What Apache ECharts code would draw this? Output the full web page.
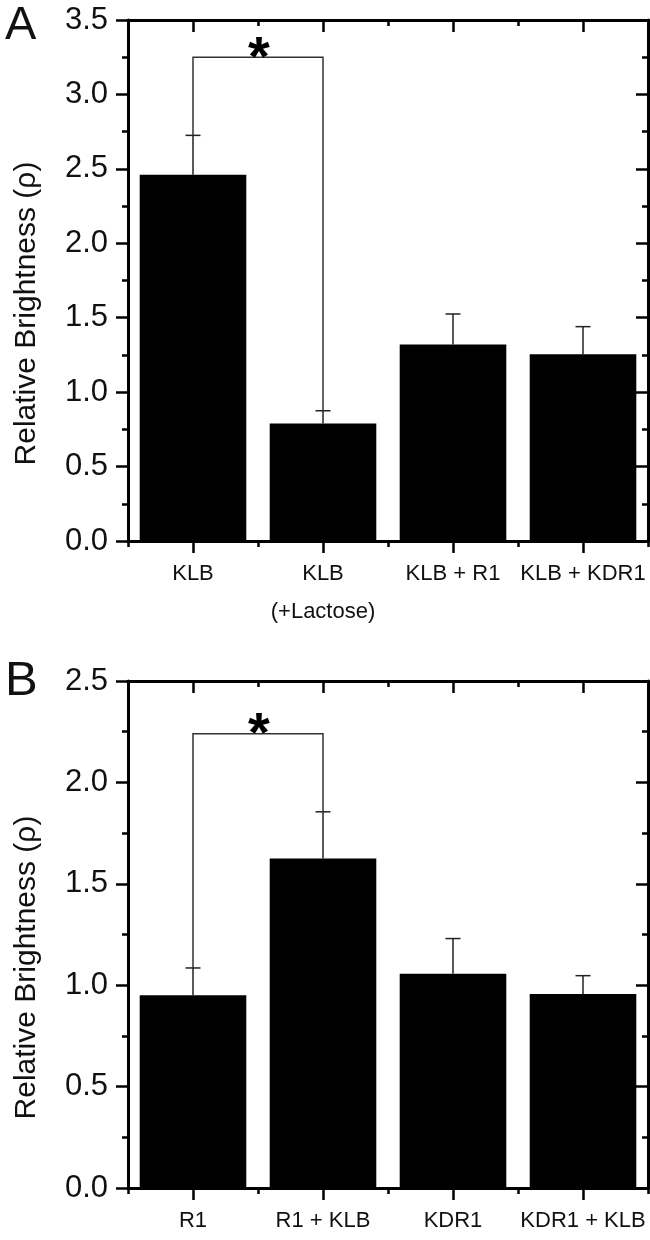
<!DOCTYPE html>
<html>
<head>
<meta charset="utf-8">
<script src="https://cdn.jsdelivr.net/npm/echarts@6/dist/echarts.min.js"></script>
<style>
html,body{margin:0;padding:0;background:#fff;}
#c{width:650px;height:1240px;}
</style>
</head>
<body>
<div id="c"></div>
<script>
// ---- Data ----
var catsA = ['KLB', 'KLB\n(+Lactose)', 'KLB + R1', 'KLB + KDR1'];
var valsA = [2.46, 0.79, 1.32, 1.255];
var errA  = [0.265, 0.085, 0.205, 0.185];
var bracketA = [0, 1, 3.25];   // from category, to category, bracket top
var ticksA = [0, 3.5, 0.5];    // min, max, step

var catsB = ['R1', 'R1 + KLB', 'KDR1', 'KDR1 + KLB'];
var valsB = [0.95, 1.625, 1.057, 0.957];
var errB  = [0.135, 0.23, 0.173, 0.09];
var bracketB = [0, 1, 2.24];
var ticksB = [0, 2.5, 0.5];

var yTitle = 'Relative Brightness (\u03c1)';
var FONT = '"Liberation Sans", Arial, sans-serif';
var INK = '#000';

var chart = echarts.init(document.getElementById('c'), null, {renderer: 'canvas'});

function xAxes(gi, cats) {
  var base = {type: 'category', gridIndex: gi, data: cats, boundaryGap: true,
    axisLine: {show: true, lineStyle: {color: INK, width: 3}}, splitLine: {show: false}};
  return [
    Object.assign({}, base, {position: 'bottom',
      axisTick: {show: true, alignWithLabel: true, length: 12, lineStyle: {color: INK, width: 2.5}},
      axisLabel: {show: true, color: '#111', fontFamily: FONT, fontSize: 22, lineHeight: 38, margin: 14, interval: 0}}),
    Object.assign({}, base, {position: 'bottom',
      axisTick: {show: true, alignWithLabel: false, length: 6, lineStyle: {color: INK, width: 2.5}},
      axisLabel: {show: false}}),
    Object.assign({}, base, {position: 'top',
      axisTick: {show: true, inside: true, alignWithLabel: true, length: 12, lineStyle: {color: INK, width: 2.5}},
      axisLabel: {show: false}}),
    Object.assign({}, base, {position: 'top',
      axisTick: {show: true, inside: true, alignWithLabel: false, length: 6, lineStyle: {color: INK, width: 2.5}},
      axisLabel: {show: false}})
  ];
}

function yAxes(gi, t) {
  var base = {type: 'value', gridIndex: gi, min: t[0], max: t[1], interval: t[2],
    axisLine: {show: true, lineStyle: {color: INK, width: 3}}, splitLine: {show: false}};
  return [
    Object.assign({}, base, {position: 'left',
      name: yTitle, nameLocation: 'middle', nameGap: 86, nameRotate: 90,
      nameTextStyle: {fontFamily: FONT, fontSize: 30, color: '#111', padding: [0, 66, 0, 0]},
      axisTick: {show: true, inside: false, length: 12, lineStyle: {color: INK, width: 2.5}},
      minorTick: {show: true, splitNumber: 2, length: 6, lineStyle: {color: INK, width: 2.5}},
      axisLabel: {show: true, color: '#111', fontFamily: FONT, fontSize: 31, margin: 20,
        formatter: function (v) { return v.toFixed(1); }}}),
    Object.assign({}, base, {position: 'right',
      axisTick: {show: true, inside: true, length: 12, lineStyle: {color: INK, width: 2.5}},
      minorTick: {show: true, splitNumber: 2, length: 6, lineStyle: {color: INK, width: 2.5}},
      axisLabel: {show: false}})
  ];
}

function errRender(params, api) {
  var i = api.value(0), v = api.value(1), e = api.value(2);
  var p0 = api.coord([i, v]);
  var p1 = api.coord([i, v + e]);
  var half = 7.5;
  return {type: 'group', children: [
    {type: 'line', shape: {x1: p0[0], y1: p0[1], x2: p1[0], y2: p1[1]}, style: {stroke: '#222', lineWidth: 1.5}},
    {type: 'line', shape: {x1: p1[0] - half, y1: p1[1], x2: p1[0] + half, y2: p1[1]}, style: {stroke: '#222', lineWidth: 1.5}}
  ]};
}

function bracketRender(params, api) {
  var a = api.value(0), b = api.value(1), top = api.value(2), la = api.value(3), lb = api.value(4);
  var pa = api.coord([a, la]), pat = api.coord([a, top]);
  var pb = api.coord([b, lb]), pbt = api.coord([b, top]);
  var mid = (pat[0] + pbt[0]) / 2;
  return {type: 'group', children: [
    {type: 'polyline', shape: {points: [pa, pat, pbt, pb]}, style: {stroke: '#333', lineWidth: 1.5, fill: null}},
    {type: 'text', x: mid + 1, y: pat[1] + 2, style: {text: '*', fontFamily: FONT, fontWeight: 'bold', fontSize: 56,
      fill: '#000', align: 'center', verticalAlign: 'middle'}}
  ]};
}

function panelSeries(gi, vals, errs, br) {
  var xi = gi * 4, yi = gi * 2;
  var errData = vals.map(function (v, i) { return [i, v, errs[i]]; });
  var brData = [[br[0], br[1], br[2], vals[br[0]] + errs[br[0]], vals[br[1]] + errs[br[1]]]];
  return [
    {type: 'bar', xAxisIndex: xi, yAxisIndex: yi, data: vals, barWidth: '82%',
      itemStyle: {color: '#000'}, silent: true, z: 2},
    {type: 'custom', xAxisIndex: xi, yAxisIndex: yi, data: errData, renderItem: errRender,
      encode: {x: 0, y: [1, 2]}, clip: false, silent: true, z: 3},
    {type: 'custom', xAxisIndex: xi, yAxisIndex: yi, data: brData, renderItem: bracketRender,
      encode: {x: [0, 1], y: [2, 3, 4]}, clip: false, silent: true, z: 3}
  ];
}

var option = {
  animation: false,
  backgroundColor: '#fff',
  title: [
    {text: 'A', left: 0, top: -2, textStyle: {fontFamily: FONT, fontSize: 47, fontWeight: 'normal', color: '#111'}},
    {text: 'B', left: 0, top: 652, textStyle: {fontFamily: FONT, fontSize: 49, fontWeight: 'normal', color: '#111'}}
  ],
  grid: [
    {left: 128, right: 2, top: 20, height: 521},
    {left: 128, right: 2, top: 681, height: 517}
  ],
  xAxis: xAxes(0, catsA).concat(xAxes(1, catsB)),
  yAxis: yAxes(0, ticksA).concat(yAxes(1, ticksB)),
  series: panelSeries(0, valsA, errA, bracketA).concat(panelSeries(1, valsB, errB, bracketB))
};
chart.setOption(option);
</script>
</body>
</html>
